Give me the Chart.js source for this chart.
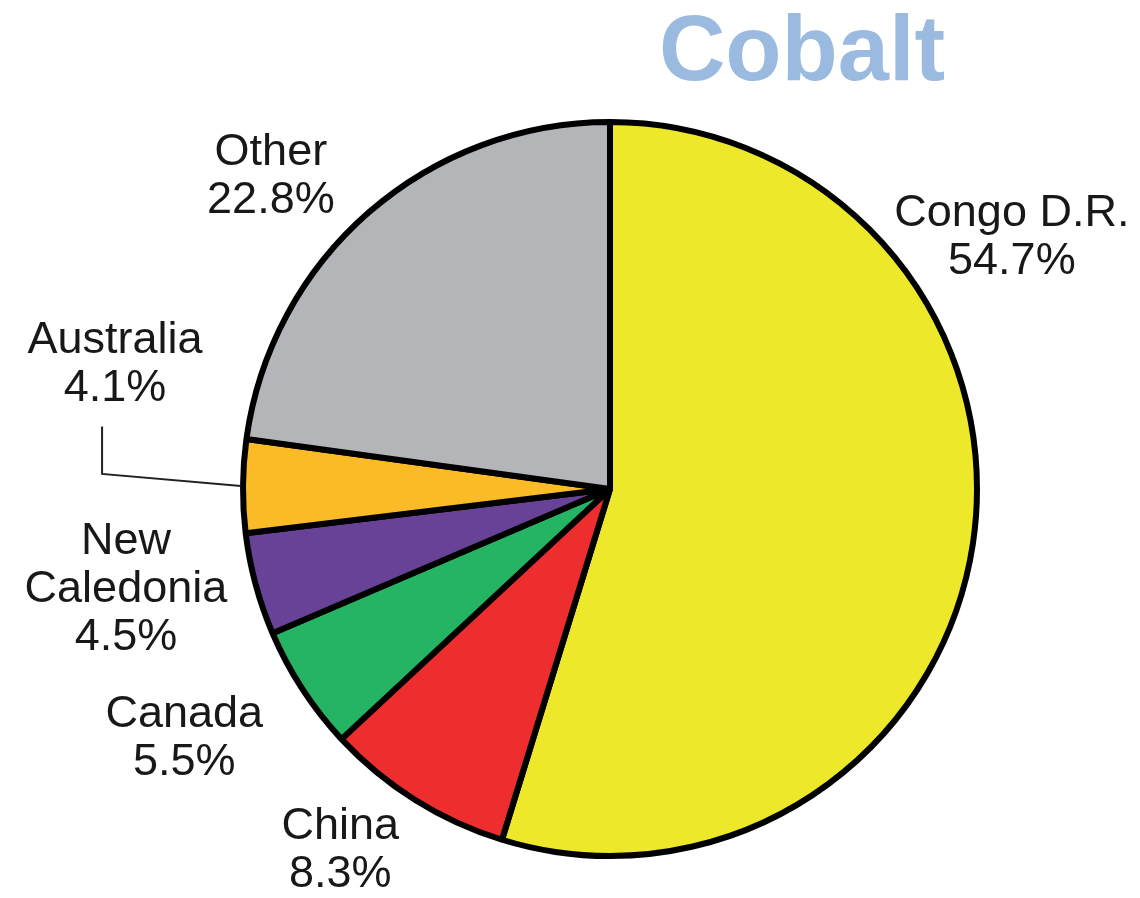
<!DOCTYPE html>
<html>
<head>
<meta charset="utf-8">
<script src="https://cdn.jsdelivr.net/npm/chart.js@4/dist/chart.umd.min.js"></script>
<style>
  body { margin: 0; background: #fff; }
  #wrap { width: 1140px; height: 898px; position: relative; }
</style>
</head>
<body>
<div id="wrap"><canvas id="pie"></canvas></div>
<script>
const countries = ["Congo D.R.", "China", "Canada", "New Caledonia", "Australia", "Other"];
const shares = [54.7, 8.3, 5.5, 4.5, 4.1, 22.8];
const sliceColors = ["#EDE829", "#EE2E2E", "#25B463", "#674296", "#FBBB27", "#B3B5B9"];
// label lines as printed (New Caledonia wraps)
const labelLines = [["Congo D.R."], ["China"], ["Canada"], ["New", "Caledonia"], ["Australia"], ["Other"]];

// where each label sits, in units of the pie radius from the centre
const labelSpots = [
    [1.095, -0.686], [-0.735, 0.986], [-1.16, 0.681],
    [-1.319, 0.273], [-1.349, -0.338], [-0.924, -0.851]
];

const pieLabels = {
    id: "pieLabels",
    afterDatasetsDraw(chart) {
        const ctx = chart.ctx;
        const arcs = chart.getDatasetMeta(0).data;
        ctx.save();
        ctx.fillStyle = "#1A1718";
        ctx.font = "45px 'Liberation Sans', Arial, sans-serif";
        ctx.textAlign = "center";
        ctx.textBaseline = "middle";
        const lh = 48;
        arcs.forEach((arc, i) => {
            const r = arc.outerRadius;
            const cx = arc.x + labelSpots[i][0] * r;
            const cy = arc.y + labelSpots[i][1] * r;
            const lines = labelLines[i].concat([shares[i].toFixed(1) + "%"]);
            const top = cy - (lines.length - 1) * lh / 2;
            lines.forEach((t, k) => ctx.fillText(t, cx, top + k * lh));
        });

        // leader line for Australia
        const a = arcs[4];
        const mid = (a.startAngle + a.endAngle) / 2;
        const r = a.outerRadius;
        ctx.strokeStyle = "#231F20";
        ctx.lineWidth = 2;
        ctx.beginPath();
        ctx.moveTo(a.x - 1.384 * r, a.y - 0.170 * r);
        ctx.lineTo(a.x - 1.384 * r, a.y - 0.041 * r);
        ctx.lineTo(a.x + Math.cos(mid) * (r + 2), a.y + Math.sin(mid) * (r + 2));
        ctx.stroke();

        // title
        ctx.fillStyle = "#9BBAE0";
        ctx.font = "bold 92px 'Liberation Sans', Arial, sans-serif";
        ctx.textBaseline = "alphabetic";
        ctx.fillText("Cobalt", 802, 80);
        ctx.restore();
    }
};

new Chart(document.getElementById("pie"), {
    type: "pie",
    data: {
        labels: countries,
        datasets: [{
            data: shares,
            backgroundColor: sliceColors,
            borderColor: "#000000",
            borderWidth: 6
        }]
    },
    options: {
        responsive: true,
        maintainAspectRatio: false,
        animation: false,
        layout: { padding: { left: 240, top: 119, right: 160, bottom: 39 } },
        plugins: {
            legend: { display: false },
            tooltip: { enabled: false }
        }
    },
    plugins: [pieLabels]
});
</script>
</body>
</html>
